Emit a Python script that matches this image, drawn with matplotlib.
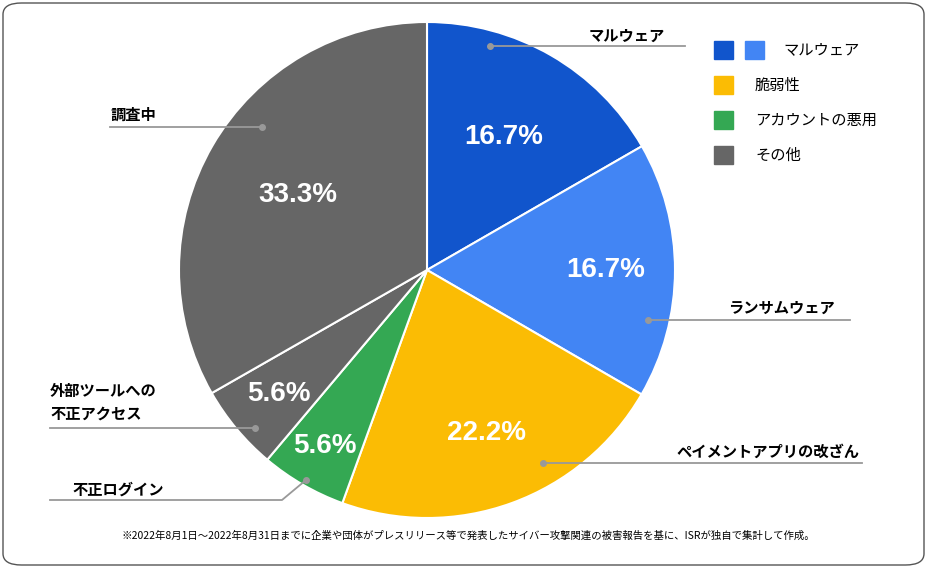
import numpy as np
import matplotlib.pyplot as plt
from matplotlib.patches import FancyBboxPatch, Rectangle

plt.rcParams['font.family'] = 'Noto Sans CJK JP'

# データ
labels = ['マルウェア', 'ランサムウェア', 'ペイメントアプリの改ざん', '不正ログイン',
          '外部ツールへの\n不正アクセス', '調査中']
values = [16.7, 16.7, 22.2, 5.6, 5.6, 33.3]
colors = ['#1155cc', '#4285f4', '#fbbc04', '#34a853', '#666666', '#666666']
legend_labels = ['マルウェア', '脆弱性', 'アカウントの悪用', 'その他']
legend_colors = [['#1155cc', '#4285f4'], ['#fbbc04'], ['#34a853'], ['#666666']]
note = '※2022年8月1日～2022年8月31日までに企業や団体がプレスリリース等で発表したサイバー攻撃関連の被害報告を基に、ISRが独自で集計して作成。'

W, H = 927, 568
fig = plt.figure(figsize=(W / 100, H / 100), dpi=100)
cx, cy, R = 427, 270, 248
ax = fig.add_axes([(cx - R) / W, (H - cy - R) / H, 2 * R / W, 2 * R / H])
wedges, _ = ax.pie(values, colors=colors, startangle=90, counterclock=False,
                   wedgeprops=dict(edgecolor='white', linewidth=1.5))
ax.set_xlim(-1, 1); ax.set_ylim(-1, 1); ax.set_aspect('equal')

def d(px, py):
    return ((px - cx) / R, (cy - py) / R)

# パーセント表示
pct_r = [0.62, 0.72, 0.7, 0.82, 0.78, 0.6]
for w, v, r in zip(wedges, values, pct_r):
    a = np.deg2rad((w.theta1 + w.theta2) / 2)
    ax.text(r * np.cos(a), r * np.sin(a), f'{v}%', color='white', fontsize=20,
            fontweight='bold', ha='center', va='center', family='Liberation Sans')

# 引き出し線
leaders = [
    ([(490, 46), (685, 46)], (665, 36), 'right'),
    ([(648, 320), (850, 320)], (835, 308), 'right'),
    ([(543, 463), (862, 463)], (860, 452), 'right'),
    ([(306, 480), (282, 500), (50, 500)], (72, 490), 'left'),
    ([(255, 428), (50, 428)], (50, 402), 'left'),
    ([(262, 127), (110, 127)], (110, 115), 'left'),
]
for lab, (pts, tp, ha) in zip(labels, leaders):
    xs, ys = zip(*[d(*p) for p in pts])
    ax.plot(xs, ys, color='#999999', lw=1.3, clip_on=False)
    ax.plot(xs[0], ys[0], 'o', color='#999999', ms=4, clip_on=False)
    tx, ty = d(*tp)
    ax.text(tx, ty, lab, fontsize=11, fontweight='bold', ha=ha, va='center',
            linespacing=1.5, clip_on=False)

# 凡例
for i, (lab, cols) in enumerate(zip(legend_labels, legend_colors)):
    y = H - (50 + i * 35)
    for j, c in enumerate(cols):
        fig.patches.append(Rectangle(((714 + j * 31) / W, (y - 9) / H), 19 / W, 18 / H,
                                     transform=fig.transFigure, color=c))
    fig.text(783 / W if i == 0 else 755 / W, y / H, lab, fontsize=11, va='center')

fig.text(468 / W, (H - 536) / H, note, fontsize=7.5, ha='center', va='center')

fig.patches.append(FancyBboxPatch((3 / W, 3 / H), (W - 6) / W, (H - 6) / H,
                                  boxstyle='round,pad=0,rounding_size=0.02',
                                  transform=fig.transFigure, fill=False,
                                  edgecolor='#555555', lw=1))
fig.savefig('out.png', dpi=100)
